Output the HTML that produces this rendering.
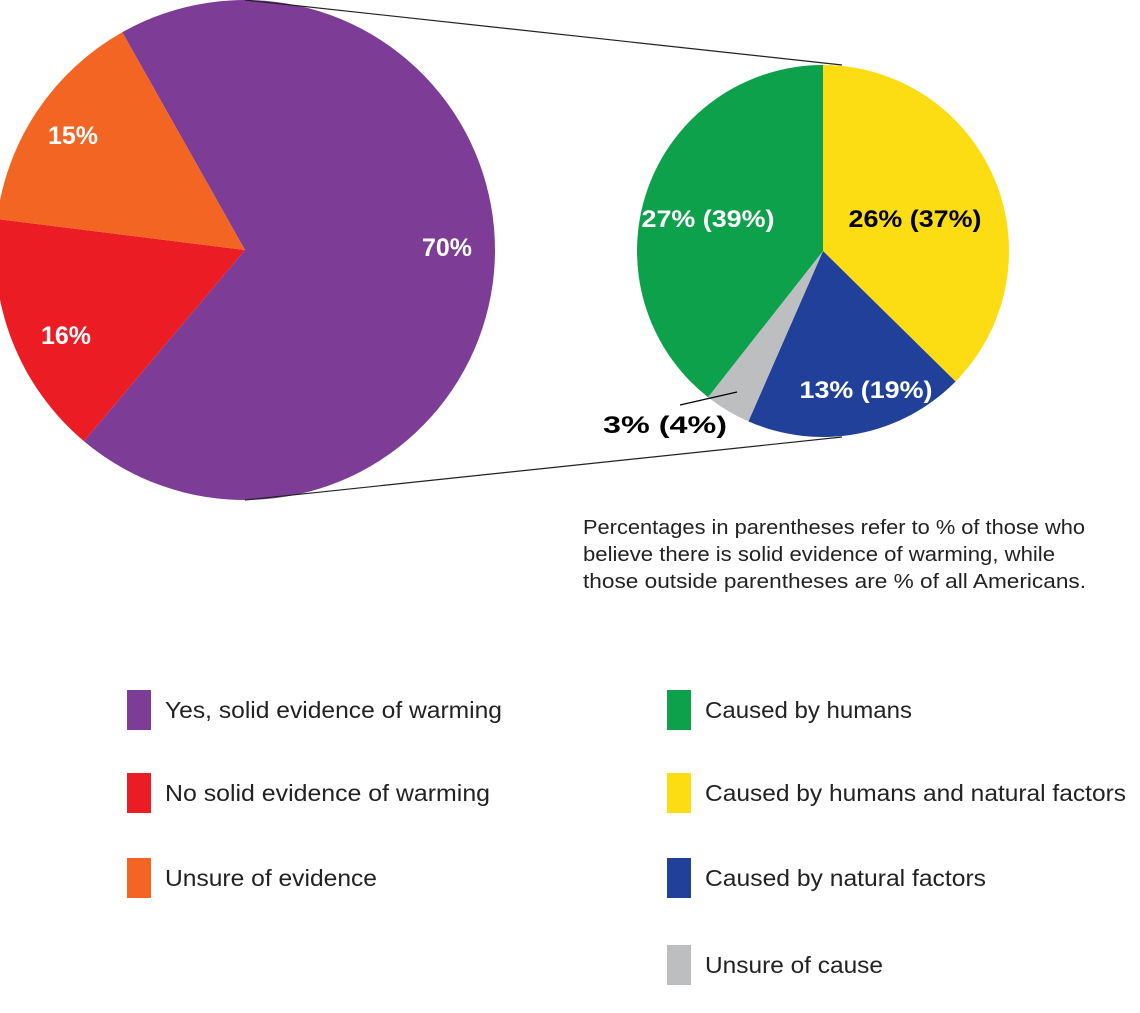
<!DOCTYPE html>
<html><head><meta charset="utf-8"><style>
body{margin:0;background:#fff;width:1140px;height:1008px;overflow:hidden;font-family:"Liberation Sans",sans-serif}
svg text{font-family:"Liberation Sans",sans-serif}
</style></head><body>
<svg id="chart" width="1140" height="1008" viewBox="0 0 1140 1008"></svg>
<script>
const bigCats=["Yes, solid evidence of warming","No solid evidence of warming","Unsure of evidence"];
const bigVals=[70,16,15];
const bigColors=["#7d3c96","#ec1c24","#f26522"];
const smallCats=["Caused by humans and natural factors","Caused by natural factors","Unsure of cause","Caused by humans"];
const smallVals=[37,19,4,39];
const smallAll=[26,13,3,27];
const smallColors=["#fcdc12","#21409a","#bcbec0","#0ea14b"];
const NS="http://www.w3.org/2000/svg";
const svg=document.getElementById('chart');
function mk(t,a){const e=document.createElementNS(NS,t);for(const k in a)e.setAttribute(k,a[k]);svg.appendChild(e);return e;}
function pt(cx,cy,r,deg){const a=deg*Math.PI/180;return [cx+r*Math.sin(a),cy-r*Math.cos(a)];}
function arc(cx,cy,r,a0,a1){const p0=pt(cx,cy,r,a0),p1=pt(cx,cy,r,a1);const l=(a1-a0)>180?1:0;
return `M${cx},${cy}L${p0[0]},${p0[1]}A${r},${r} 0 ${l} 1 ${p1[0]},${p1[1]}Z`;}
// big pie
const bcx=245,bcy=250,br=250;
let tot=bigVals.reduce((a,b)=>a+b,0);let ang=330.6;
bigVals.forEach((v,i)=>{const sw=v/tot*360;
const p=mk('path',{d:arc(bcx,bcy,br,ang,ang+sw),fill:bigColors[i]});

const lp=[[447,247],[66,335],[73,135]][i];
const t=mk('text',{x:lp[0],y:lp[1]+9,'text-anchor':'middle','font-size':25,'font-weight':'bold',fill:'#fff',textLength:50,lengthAdjust:'spacingAndGlyphs'});
t.textContent=v+'%';
ang+=sw;});
// connectors
mk('line',{x1:245,y1:0,x2:842,y2:65,stroke:'#222','stroke-width':1.2});
mk('line',{x1:245,y1:500,x2:842,y2:437,stroke:'#222','stroke-width':1.2});
// small pie
const scx=823,scy=251,sr=186;
tot=smallVals.reduce((a,b)=>a+b,0);ang=0;
smallVals.forEach((v,i)=>{const sw=v/tot*360;
const p=mk('path',{d:arc(scx,scy,sr,ang,ang+sw),fill:smallColors[i]});

let lp,fill='#fff';
if(i==0){lp=[915,219];fill='#000';}
if(i==1){lp=[866,390];}
if(i==3){lp=[708,219];}
if(i==2){mk('line',{x1:737,y1:392,x2:680,y2:405,stroke:'#000','stroke-width':1.2});lp=[665,425];fill='#000';}
const t=mk('text',{x:lp[0],y:lp[1]+8,'text-anchor':'middle','font-size':24,'font-weight':'bold',fill:fill,textLength:i==2?124:133,lengthAdjust:'spacingAndGlyphs'});
t.textContent=smallAll[i]+'% ('+v+'%)';
ang+=sw;});
// note
["Percentages in parentheses refer to % of those who","believe there is solid evidence of warming, while","those outside parentheses are % of all Americans."].forEach((s,i)=>{
const t=mk('text',{x:583,y:534+i*27,'font-size':20,fill:'#222',textLength:[502,472,503][i],lengthAdjust:'spacingAndGlyphs'});t.textContent=s;});
// legends
const lw=[337,325,212];
bigCats.forEach((c,i)=>{const y=[710,793,878][i];
mk('rect',{x:127,y:y-20,width:24,height:40,fill:bigColors[i]});
const t=mk('text',{x:165,y:y+8,'font-size':23,fill:'#222',textLength:lw[i],lengthAdjust:'spacingAndGlyphs'});t.textContent=c;});
const order=[3,0,1,2];const rw=[207,421,281,178];
order.forEach((k,j)=>{const y=[710,793,878,965][j];
mk('rect',{x:667,y:y-20,width:24,height:40,fill:smallColors[k]});
const t=mk('text',{x:705,y:y+8,'font-size':23,fill:'#222',textLength:rw[j],lengthAdjust:'spacingAndGlyphs'});t.textContent=smallCats[k];});
</script>
</body></html>
